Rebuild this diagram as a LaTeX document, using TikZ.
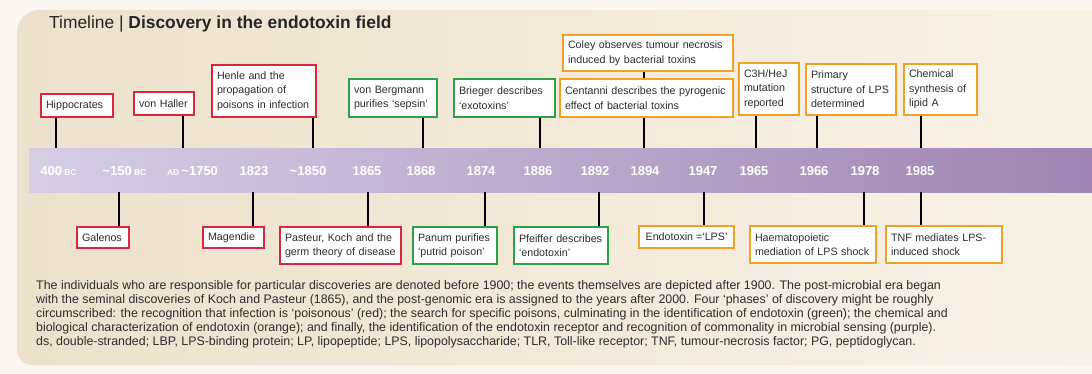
\documentclass[tikz,border=0pt]{standalone}
\usepackage{fontspec}
\setmainfont{Liberation Sans}
\definecolor{outerbg}{RGB}{251,247,240}
\definecolor{panelL}{RGB}{236,225,204}
\definecolor{panelR}{RGB}{248,241,230}
\definecolor{barL}{RGB}{215,205,229}
\definecolor{barR}{RGB}{157,132,179}
\definecolor{cred}{RGB}{221,38,62}
\definecolor{cgreen}{RGB}{46,160,72}
\definecolor{corange}{RGB}{241,161,36}
\definecolor{txt}{RGB}{45,45,45}
\begin{document}
\begin{tikzpicture}[x=1pt,y=-1pt,
 evbox/.style={draw, fill=white, line width=1.4pt, inner xsep=5pt, inner ysep=0pt, align=left, text=txt, font=\fontsize{10.7}{14.5}\selectfont},
 redbox/.style={evbox, draw=cred},
 greenbox/.style={evbox, draw=cgreen},
 orangebox/.style={evbox, draw=corange},
 link/.style={draw=black, line width=1.1pt},
 yr/.style={anchor=base, text=white, font=\bfseries\fontsize{13}{13}\selectfont, inner sep=0pt},
 capline/.style={anchor=base west, inner sep=0pt, text=txt, font=\fontsize{12.4}{14}\selectfont}]
\useasboundingbox (0,0) rectangle (1092,374);
\fill[outerbg] (0,0) rectangle (1092,374);
\shade[left color=panelL, right color=panelR] (1092,10) [rounded corners=22pt] -- (17,10) [rounded corners=15pt] -- (17,365) [sharp corners] -- (1092,365) -- cycle;

% title
\node[anchor=base west, inner sep=0pt, text=black!85, font=\fontsize{17.4}{17.4}\selectfont] (title) at (49,29) {Timeline | \textbf{Discovery in the endotoxin field}};

% bar
\node[shade, left color=barL, right color=barR, minimum width=1063pt, minimum height=44pt, inner sep=0pt, anchor=north west] (bar) at (29,148) {};

% years
\node[yr] (y1) at (58.5,176) {400\,{\fontsize{8.5}{8.5}\selectfont BC}};
\node[yr] (y2) at (124.5,176) {\textasciitilde150\,{\fontsize{8.5}{8.5}\selectfont BC}};
\node[yr] (y3) at (192.5,176) {{\fontsize{8.5}{8.5}\selectfont AD}\,\textasciitilde1750};
\node[yr] (y4) at (254,176) {1823};
\node[yr] (y5) at (308,176) {\textasciitilde1850};
\node[yr] (y6) at (367,176) {1865};
\node[yr] (y7) at (421,176) {1868};
\node[yr] (y8) at (481,176) {1874};
\node[yr] (y9) at (538,176) {1886};
\node[yr] (y10) at (595,176) {1892};
\node[yr] (y11) at (645,176) {1894};
\node[yr] (y12) at (703,176) {1947};
\node[yr] (y13) at (754,176) {1965};
\node[yr] (y14) at (814,176) {1966};
\node[yr] (y15) at (865,176) {1978};
\node[yr] (y16) at (920,176) {1985};

% top boxes
\node[redbox, minimum width=72pt, minimum height=23pt, text width=62pt] (hip) at (77,105.5) {Hippocrates};
\node[redbox, minimum width=60pt, minimum height=23pt, text width=50pt] (hal) at (164,103.5) {von Haller};
\node[redbox, minimum width=104pt, minimum height=52pt, text width=94pt] (hen) at (264,91) {Henle and the\\propagation of\\poisons in infection};
\node[greenbox, minimum width=88pt, minimum height=38pt, text width=78pt] (ber) at (393,98) {von Bergmann\\purifies ‘sepsin’};
\node[greenbox, minimum width=101pt, minimum height=38pt, text width=91pt] (bri) at (504.5,98) {Brieger describes\\‘exotoxins’};
\node[orangebox, minimum width=170pt, minimum height=36pt, text width=160pt] (col) at (648,53) {Coley observes tumour necrosis\\induced by bacterial toxins};
\node[orangebox, minimum width=173pt, minimum height=38pt, text width=163pt] (cen) at (646.5,98) {Centanni describes the pyrogenic\\effect of bacterial toxins};
\node[orangebox, minimum width=60pt, minimum height=52pt, text width=50pt] (c3h) at (769,89) {C3H/HeJ\\mutation\\reported};
\node[orangebox, minimum width=90pt, minimum height=51pt, text width=80pt] (pri) at (851,89.5) {Primary\\structure of LPS\\determined};
\node[orangebox, minimum width=73pt, minimum height=51pt, text width=63pt] (che) at (940.5,89.5) {Chemical\\synthesis of\\lipid A};

% bottom boxes
\node[redbox, minimum width=52pt, minimum height=21pt, text width=42pt] (gal) at (103,237.5) {Galenos};
\node[redbox, minimum width=61pt, minimum height=21pt, text width=51pt] (mag) at (233.5,237.5) {Magendie};
\node[redbox, minimum width=121pt, minimum height=37pt, text width=111pt] (pas) at (340.5,245.5) {Pasteur, Koch and the\\germ theory of disease};
\node[greenbox, minimum width=84pt, minimum height=37pt, text width=74pt] (pan) at (455,245.5) {Panum purifies\\‘putrid poison’};
\node[greenbox, minimum width=94pt, minimum height=37pt, text width=84pt] (pfe) at (561,245.5) {Pfeiffer describes\\‘endotoxin’};
\node[orangebox, minimum width=95pt, minimum height=22pt, inner xsep=3pt] (end) at (686.5,237) {Endotoxin =‘LPS’};
\node[orangebox, minimum width=126pt, minimum height=37pt, text width=116pt] (hae) at (813,244.5) {Haematopoietic\\mediation of LPS shock};
\node[orangebox, minimum width=116pt, minimum height=37pt, text width=106pt] (tnf) at (944,244.5) {TNF mediates LPS-\\induced shock};

% connector x positions
\coordinate (t1) at (56,0);
\coordinate (t2) at (183,0);
\coordinate (t3) at (313,0);
\coordinate (t4) at (423,0);
\coordinate (t5) at (540,0);
\coordinate (t6) at (644,0);
\coordinate (t7) at (756,0);
\coordinate (t8) at (817,0);
\coordinate (t9) at (921,0);
\coordinate (b1) at (119,0);
\coordinate (b2) at (253,0);
\coordinate (b3) at (368,0);
\coordinate (b4) at (485,0);
\coordinate (b5) at (599,0);
\coordinate (b6) at (704,0);
\coordinate (b7) at (864,0);
\coordinate (b8) at (921,0);

\draw[link] (hip.south -| t1) -- (t1 |- bar.north);
\draw[link] (hal.south -| t2) -- (t2 |- bar.north);
\draw[link] (hen.south -| t3) -- (t3 |- bar.north);
\draw[link] (ber.south -| t4) -- (t4 |- bar.north);
\draw[link] (bri.south -| t5) -- (t5 |- bar.north);
\draw[link] (col.south -| t6) -- (t6 |- cen.north);
\draw[link] (cen.south -| t6) -- (t6 |- bar.north);
\draw[link] (c3h.south -| t7) -- (t7 |- bar.north);
\draw[link] (pri.south -| t8) -- (t8 |- bar.north);
\draw[link] (che.south -| t9) -- (t9 |- bar.north);
\draw[link] (b1 |- bar.south) -- (gal.north -| b1);
\draw[link] (b2 |- bar.south) -- (mag.north -| b2);
\draw[link] (b3 |- bar.south) -- (pas.north -| b3);
\draw[link] (b4 |- bar.south) -- (pan.north -| b4);
\draw[link] (b5 |- bar.south) -- (pfe.north -| b5);
\draw[link] (b6 |- bar.south) -- (end.north -| b6);
\draw[link] (b7 |- bar.south) -- (hae.north -| b7);
\draw[link] (b8 |- bar.south) -- (tnf.north -| b8);

% caption
\node[capline] (l1) at (36,289) {The individuals who are responsible for particular discoveries are denoted before 1900; the events themselves are depicted after 1900. The post-microbial era began};
\node[capline] (l2) at (36,303.2) {with the seminal discoveries of Koch and Pasteur (1865), and the post-genomic era is assigned to the years after 2000. Four ‘phases’ of discovery might be roughly};
\node[capline] (l3) at (36,317.4) {circumscribed: the recognition that infection is ‘poisonous’ (red); the search for specific poisons, culminating in the identification of endotoxin (green); the chemical and};
\node[capline] (l4) at (36,331.6) {biological characterization of endotoxin (orange); and finally, the identification of the endotoxin receptor and recognition of commonality in microbial sensing (purple).};
\node[capline] (l5) at (36,345.8) {ds, double-stranded; LBP, LPS-binding protein; LP, lipopeptide; LPS, lipopolysaccharide; TLR, Toll-like receptor; TNF, tumour-necrosis factor; PG, peptidoglycan.};
\end{tikzpicture}
\end{document}
